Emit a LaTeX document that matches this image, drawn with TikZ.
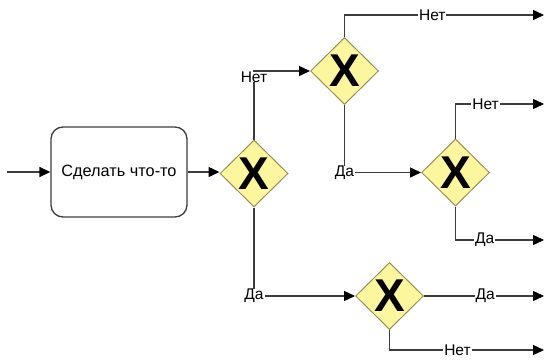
\documentclass[tikz,border=0pt]{standalone}
\usepackage{fontspec}
\setmainfont{Liberation Sans}
\usetikzlibrary{shapes.geometric,arrows.meta}
\definecolor{linegray}{RGB}{60,60,60}
\definecolor{gwfill}{RGB}{252,246,158}
\definecolor{gwdraw}{RGB}{150,145,85}
\begin{document}
\begin{tikzpicture}[x=1pt,y=-1pt,
  flow/.style={draw=linegray, line width=1.4pt, -{Triangle[length=11pt,width=10pt,fill=black,color=black]}},
  lbl/.style={fill=white, inner xsep=1pt, inner ysep=0pt, font=\fontsize{15.5}{16}\selectfont},
  taskbox/.style={draw=linegray, line width=1.3pt, rounded corners=12pt, minimum width=136pt, minimum height=90pt, font=\fontsize{16.3}{18}\selectfont},
  gateway/.style={shape=diamond, draw=gwdraw, fill=gwfill, line width=1pt, minimum width=68pt, minimum height=67pt, inner sep=0pt,
    label={[font=\bfseries\fontsize{46}{48}\selectfont, inner sep=0pt]center:X}}
]
\useasboundingbox (0,0) rectangle (545,359);
\coordinate (s) at (7,172);
\node[taskbox] (task) at (119,172) {Сделать что-то};
\node[gateway] (g1) at (254,173.5) {};
\node[gateway] (g2) at (344.5,71) {};
\node[gateway] (g3) at (455.5,172.5) {};
\node[gateway] (g4) at (389.5,296) {};
\coordinate (e1) at (544,15);
\coordinate (e2) at (544,104);
\coordinate (e3) at (544,240);
\coordinate (e4) at (544,296);
\coordinate (e5) at (544,350);

\draw[flow] (s) -- (task.west);
\draw[flow] (task.east) -- (task.east -| g1.west);
\draw[flow] (g1.north) |- node[lbl, pos=0.5, yshift=-6pt] {Нет} (g2.west);
\draw[flow] (g1.south) |- node[lbl, pos=0.5] {Да} (g4.west);
\draw[flow] (g2.south) |- node[lbl, pos=0.5] {Да} (g3.west);
\draw[flow] (g2.north) |- node[lbl, pos=0.72] {Нет} (e1);
\draw[flow] (g3.north) |- node[lbl, pos=0.67] {Нет} (e2);
\draw[flow] (g3.south) |- node[lbl, pos=0.665] {Да} (e3);
\draw[flow] (g4.east) -- node[lbl, pos=0.51] {Да} (e4);
\draw[flow] (g4.south) |- node[lbl, pos=0.72] {Нет} (e5);
\end{tikzpicture}
\end{document}
